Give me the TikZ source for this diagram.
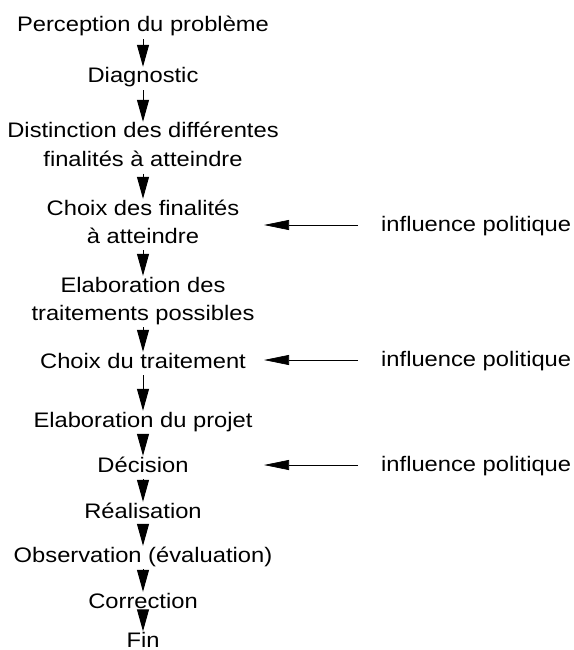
\documentclass[tikz,border=0pt]{standalone}
\usepackage{fontspec}
\setmainfont{Liberation Sans}[FakeStretch=1.13]
\usetikzlibrary{arrows.meta}
\begin{document}
\begin{tikzpicture}[x=1pt,y=1pt,
  lbl/.style={font=\fontsize{21}{28}\selectfont, inner sep=0pt, text height=15pt, text depth=5pt, anchor=base},
  flow/.style={-{Triangle[length=22pt,width=12pt]}, line width=1pt, shorten <=2pt, shorten >=1pt},
  infl/.style={-{Triangle[length=25pt,width=10pt]}, line width=0.7pt, shorten <=23pt}
]
\useasboundingbox (0,0) rectangle (573,-650);
\def\cx{143}
\node[lbl] (perc)  at (\cx,-32)  {Perception du problème};
\node[lbl] (diag)  at (\cx,-83)  {Diagnostic};
\node[lbl] (dista) at (\cx,-138) {Distinction des différentes};
\node[lbl] (distb) at (\cx,-166.5) {finalités à atteindre};
\node[lbl] (choixa) at (\cx,-215) {Choix des finalités};
\node[lbl] (choixb) at (\cx,-243) {à atteindre};
\node[lbl] (elaba) at (\cx,-292) {Elaboration des};
\node[lbl] (elabb) at (\cx,-320) {traitements possibles};
\node[lbl] (trait) at (\cx,-368) {Choix du traitement};
\node[lbl] (proj)  at (\cx,-427) {Elaboration du projet};
\node[lbl] (dec)   at (\cx,-472) {Décision};
\node[lbl] (real)  at (\cx,-518) {Réalisation};
\node[lbl] (obs)   at (\cx,-562) {Observation (évaluation)};
\node[lbl] (corr)  at (\cx,-608) {Correction};
\node[lbl, text depth=0pt] (fin) at (\cx,-647.5) {Fin};

\draw[flow] (perc.south) -- (diag.north);
\draw[flow] (diag.south) -- (dista.north);
\draw[flow] (distb.south) -- (choixa.north);
\draw[flow] (choixb.south) -- (elaba.north);
\draw[flow] (elabb.south) -- (trait.north);
\draw[flow] (trait.south) -- (proj.north);
\draw[flow] (proj.south) -- (dec.north);
\draw[flow] (dec.south) -- (real.north);
\draw[flow] (real.south) -- (obs.north);
\draw[flow] (obs.south) -- (corr.north);
\draw[flow] (corr.south) -- (fin.north);

\node[lbl, anchor=base west] (inf1) at (381,-231.5) {influence politique};
\node[lbl, anchor=base west] (inf2) at (381,-366.5) {influence politique};
\node[lbl, anchor=base west] (inf3) at (381,-471.5) {influence politique};
\coordinate (t1) at (264,-225);
\coordinate (t2) at (264,-360);
\coordinate (t3) at (264,-465);
\draw[infl] (inf1.west |- t1) -- (t1);
\draw[infl] (inf2.west |- t2) -- (t2);
\draw[infl] (inf3.west |- t3) -- (t3);
\end{tikzpicture}
\end{document}
